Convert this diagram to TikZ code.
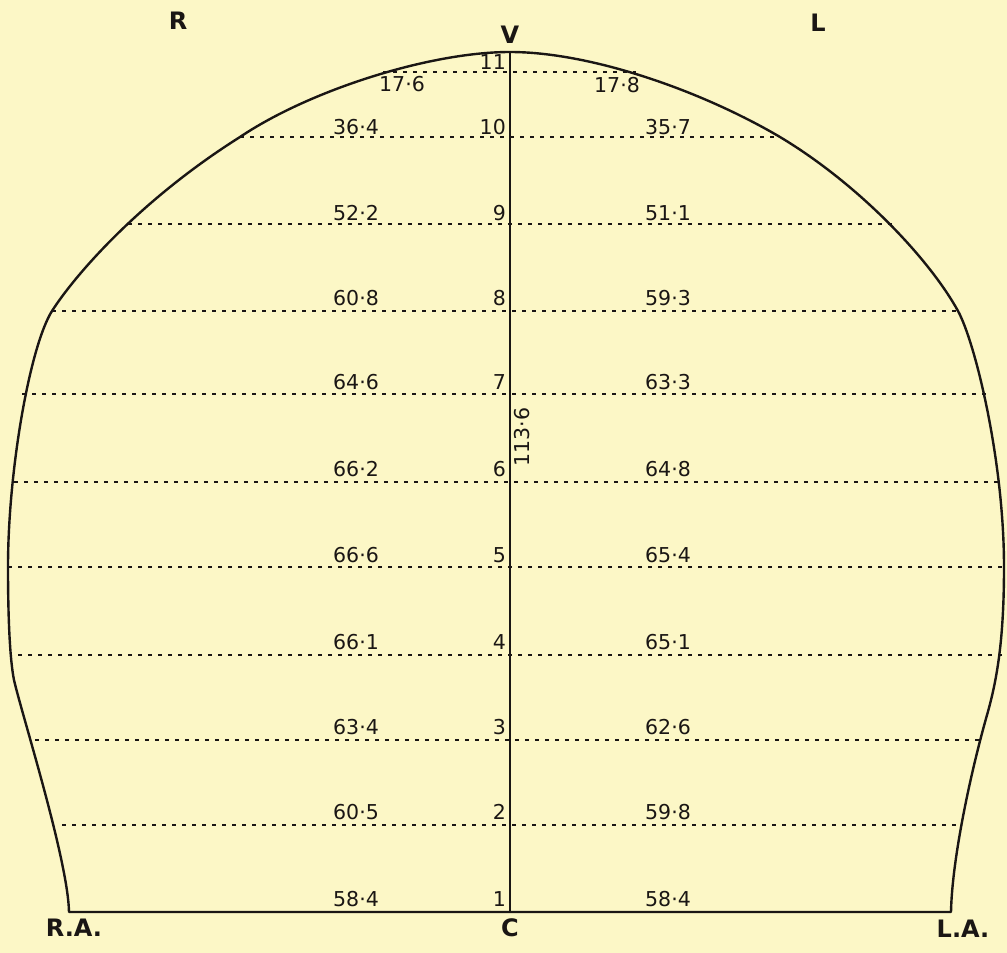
\documentclass[tikz,border=0pt]{standalone}
\usepackage{fontspec}
\setmainfont{DejaVu Sans}
\definecolor{paper}{HTML}{FCF7C6}
\definecolor{ink}{HTML}{1A1614}
\begin{document}
\begin{tikzpicture}[x=1pt,y=-1pt,
  outline/.style={draw=ink,line width=2.4pt,line join=round},
  level/.style={draw=ink,line width=1.9pt,dash pattern=on 3.5pt off 6.5pt},
  num/.style={font=\fontsize{20.5}{20.5}\selectfont,text=ink,inner sep=0pt},
  lvl/.style={num,anchor=east},
  lab/.style={font=\fontsize{24}{24}\selectfont\bfseries,text=ink,inner sep=0pt}]
\fill[paper] (0,0) rectangle (1007,953);
\useasboundingbox (0,0) rectangle (1007,953);
% dotted levels
\foreach \y/\a/\b in {72/383/636,137/240/780,224/128/893,311/52/958,394/22/987,482/14/999,567/8/1004,655/18/1003,740/35/980,825/62/961}{
  \draw[level] (\a,\y) -- (\b,\y);
}
% axis end points
\coordinate (V) at (510,52);
\coordinate (C) at (510,912);
\coordinate (RA) at (69,912);
\coordinate (LA) at (951,912);
% outline
\draw[outline] (RA)
  .. controls (68,860) and (22,715) .. (14,680)
  .. controls (10,660) and (8,620) .. (8,567)
  .. controls (8,470) and (30,346) .. (52,311)
  .. controls (75,275) and (140,200) .. (240,137)
  .. controls (310,90) and (430,52) .. (V)
  .. controls (590,52) and (700,90) .. (780,137)
  .. controls (860,185) and (930,260) .. (958,311)
  .. controls (975,342) and (1004,460) .. (1004,567)
  .. controls (1004,640) and (997,680) .. (987,715)
  .. controls (970,775) and (952,860) .. (LA)
  -- cycle;
% axis
\draw[draw=ink,line width=2.4pt] (V) -- (C);
% letter labels
\node[lab] (vlab) at (510,35) {V};
\node[lab] (clab) at (510,928) {C};
\node[lab] (rlab) at (178,21) {R};
\node[lab] (llab) at (818,23) {L};
\node[lab] (ralab) at (74,928) {R.A.};
\node[lab] (lalab) at (963,929) {L.A.};
% level numbers
\node[lvl] (n11) at (506,62) {11};
\node[lvl] (n10) at (506,127) {10};
\node[lvl] (n9) at (506,213) {9};
\node[lvl] (n8) at (506,298) {8};
\node[lvl] (n7) at (506,382) {7};
\node[lvl] (n6) at (506,469) {6};
\node[lvl] (n5) at (506,555) {5};
\node[lvl] (n4) at (506,642) {4};
\node[lvl] (n3) at (506,727) {3};
\node[lvl] (n2) at (506,812) {2};
\node[lvl] (n1) at (506,899) {1};
% vertical length
\node[num,rotate=90] (len) at (522,437) {113·6};
% left widths
\node[num] (l11) at (402,84) {17·6};
\node[num] (l10) at (356,127) {36·4};
\node[num] (l9) at (356,213) {52·2};
\node[num] (l8) at (356,298) {60·8};
\node[num] (l7) at (356,382) {64·6};
\node[num] (l6) at (356,469) {66·2};
\node[num] (l5) at (356,555) {66·6};
\node[num] (l4) at (356,642) {66·1};
\node[num] (l3) at (356,727) {63·4};
\node[num] (l2) at (356,812) {60·5};
\node[num] (l1) at (356,899) {58·4};
% right widths
\node[num] (r11) at (617,85) {17·8};
\node[num] (r10) at (668,127) {35·7};
\node[num] (r9) at (668,213) {51·1};
\node[num] (r8) at (668,298) {59·3};
\node[num] (r7) at (668,382) {63·3};
\node[num] (r6) at (668,469) {64·8};
\node[num] (r5) at (668,555) {65·4};
\node[num] (r4) at (668,642) {65·1};
\node[num] (r3) at (668,727) {62·6};
\node[num] (r2) at (668,812) {59·8};
\node[num] (r1) at (668,899) {58·4};
\end{tikzpicture}
\end{document}
